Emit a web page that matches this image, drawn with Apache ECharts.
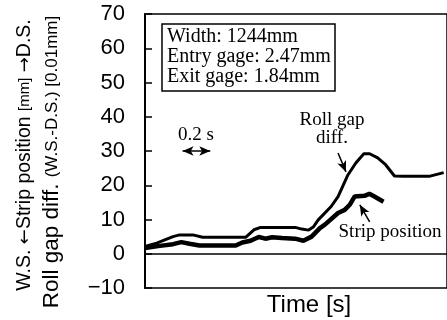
<!DOCTYPE html>
<html>
<head>
<meta charset="utf-8">
<script src="https://cdn.jsdelivr.net/npm/echarts@6/dist/echarts.min.js"></script>
<style>
  html, body { margin: 0; padding: 0; background: #fff; }
  #chart { width: 447px; height: 320px; }
</style>
</head>
<body>
<div id="chart"></div>
<script>
// time [s] and values
var rollT   = [0.000, 0.084, 0.202, 0.250, 0.345, 0.416, 0.726, 0.786, 0.834, 1.084, 1.131, 1.181, 1.214, 1.250, 1.343, 1.393, 1.464, 1.521, 1.579, 1.621, 1.679, 1.736, 1.800, 1.864, 2.050, 2.155];
var rollGap = [2.1, 3.1, 5.0, 5.5, 5.5, 4.8, 4.8, 7.0, 7.7, 7.7, 7.2, 6.9, 7.8, 9.9, 13.8, 16.7, 23.0, 26.5, 29.2, 29.2, 28.0, 26.0, 22.7, 22.6, 22.6, 23.7];

var stripT   = [0.000, 0.107, 0.202, 0.262, 0.321, 0.393, 0.655, 0.702, 0.762, 0.821, 0.869, 0.917, 0.988, 1.083, 1.143, 1.202, 1.262, 1.298, 1.393, 1.441, 1.477, 1.512, 1.583, 1.619, 1.655, 1.721];
var stripPos = [1.7, 2.3, 2.8, 3.4, 2.9, 2.4, 2.4, 3.3, 3.8, 4.9, 4.4, 4.8, 4.6, 4.4, 3.8, 5.0, 7.5, 8.5, 11.9, 12.8, 14.3, 16.7, 16.9, 17.5, 16.7, 15.2];

var yTicks = [-10, 0, 10, 20, 30, 40, 50, 60, 70];
var infoLines = ['Width: 1244mm', 'Entry gage: 2.47mm', 'Exit gage: 1.84mm'];

function pairs(xs, ys) {
    return xs.map(function (x, i) { return [x, ys[i]]; });
}

var SANS = 'Liberation Sans, Arial, sans-serif';
var SERIF = 'Liberation Serif, Times New Roman, serif';
var ARROWS = 'DejaVu Sans, sans-serif';

var chart = echarts.init(document.getElementById('chart'));
chart.setOption({
    animation: false,
    backgroundColor: '#fff',
    grid: {
        left: 145, right: -3, top: 14, bottom: 32,
        show: true, borderColor: '#000', borderWidth: 1.5
    },
    xAxis: {
        type: 'value', min: 0, max: 2.179,
        axisLine: { show: false },
        axisTick: { show: false },
        axisLabel: { show: false },
        splitLine: { show: false }
    },
    yAxis: {
        type: 'value', min: yTicks[0], max: yTicks[yTicks.length - 1], interval: 10,
        axisLine: { show: true, onZero: false, lineStyle: { color: '#000', width: 2 } },
        axisTick: { show: true, inside: true, length: 7, lineStyle: { color: '#000', width: 1.5 } },
        axisLabel: {
            color: '#000', fontSize: 22, fontFamily: SANS, margin: 20,
            formatter: function (v) { return String(v).replace('-', '\u2212'); }
        },
        splitLine: { show: false }
    },
    series: [
        {
            name: 'Roll gap diff.',
            type: 'line',
            data: pairs(rollT, rollGap),
            showSymbol: false,
            lineStyle: { color: '#000', width: 3 },
            silent: true,
            markLine: {
                silent: true,
                label: { show: false },
                lineStyle: { color: '#000', width: 1.5, type: 'solid' },
                symbol: 'none',
                symbolSize: [7, 11],
                data: [
                    { yAxis: 0 },
                    [{ coord: [1.393, 29.4], symbol: 'none' }, { coord: [1.45, 23.9], symbol: 'arrow' }],
                    [{ coord: [0.271, 30.0], symbol: 'arrow' }, { coord: [0.471, 30.0], symbol: 'arrow' }]
                ]
            }
        },
        {
            name: 'Strip position',
            type: 'line',
            data: pairs(stripT, stripPos),
            showSymbol: false,
            lineStyle: { color: '#000', width: 4.5 },
            silent: true,
            markLine: {
                silent: true,
                label: { show: false },
                lineStyle: { color: '#000', width: 1.5, type: 'solid' },
                symbol: 'none',
                symbolSize: [7, 11],
                data: [
                    [{ coord: [1.621, 9.3], symbol: 'none' }, { coord: [1.55, 14.3], symbol: 'arrow' }]
                ]
            }
        }
    ],
    graphic: [
        {
            type: 'rect', shape: { x: 162, y: 24, width: 173, height: 67 },
            style: { fill: '#fff', stroke: '#000', lineWidth: 1.5 }, z: 10
        },
        {
            type: 'text', x: 167, y: 27, z: 11,
            style: {
                text: infoLines.join('\n'), fill: '#000', fontSize: 20, fontFamily: SERIF,
                lineHeight: 20, align: 'left', verticalAlign: 'top', textAlign: 'left', textVerticalAlign: 'top'
            }
        },
        {
            type: 'text', x: 332, y: 129, z: 11,
            style: {
                text: 'Roll gap\ndiff.', fill: '#000', fontSize: 19, fontFamily: SERIF, lineHeight: 18,
                align: 'center', verticalAlign: 'middle', textAlign: 'center', textVerticalAlign: 'middle'
            }
        },
        {
            type: 'text', x: 196, y: 135, z: 11,
            style: {
                text: '0.2 s', fill: '#000', fontSize: 19, fontFamily: SERIF,
                align: 'center', verticalAlign: 'middle', textAlign: 'center', textVerticalAlign: 'middle'
            }
        },
        {
            type: 'text', x: 390, y: 232, z: 11,
            style: {
                text: 'Strip position', fill: '#000', fontSize: 19, fontFamily: SERIF,
                align: 'center', verticalAlign: 'middle', textAlign: 'center', textVerticalAlign: 'middle'
            }
        },
        {
            type: 'text', x: 309, y: 305, z: 11,
            style: {
                text: 'Time [s]', fill: '#000', fontSize: 24, fontFamily: SANS,
                align: 'center', verticalAlign: 'middle', textAlign: 'center', textVerticalAlign: 'middle'
            }
        },
        {
            type: 'text', x: 25, y: 155, rotation: Math.PI / 2, z: 11,
            style: {
                text: '{a|W.S. }{c|\u2190}{a|Strip position }{b|[mm]}{a| }{c|\u2192}{a|D.S.}',
                align: 'center', verticalAlign: 'middle', textAlign: 'center', textVerticalAlign: 'middle',
                fill: '#000',
                rich: {
                    a: { fontSize: 19.5, fontFamily: SANS, fill: '#000' },
                    b: { fontSize: 15, fontFamily: SANS, fill: '#000' },
                    c: { fontSize: 18, fontFamily: ARROWS, fill: '#000' }
                }
            }
        },
        {
            type: 'text', x: 52, y: 162, rotation: Math.PI / 2, z: 11,
            style: {
                text: '{a|Roll gap diff. }{b|(W.S.-D.S.) [0.01mm]}',
                align: 'center', verticalAlign: 'middle', textAlign: 'center', textVerticalAlign: 'middle',
                fill: '#000',
                rich: {
                    a: { fontSize: 22.5, fontFamily: SANS, fill: '#000' },
                    b: { fontSize: 17, fontFamily: SANS, fill: '#000' }
                }
            }
        }
    ]
});
</script>
</body>
</html>
